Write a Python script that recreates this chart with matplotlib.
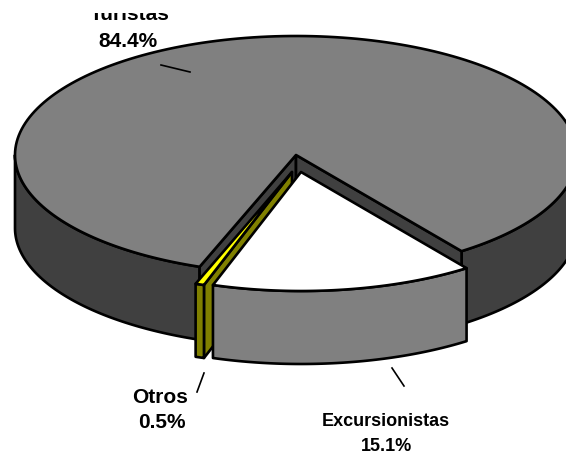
import numpy as np
import matplotlib
matplotlib.use("Agg")
import matplotlib.pyplot as plt
from matplotlib.patches import Polygon
from matplotlib.transforms import Bbox

categories = ["Excursionistas", "Otros", "Turistas"]
values = [15.1, 0.5, 84.4]
label_texts = ["15.1%", "0.5%", "84.4%"]

plt.rcParams['font.family'] = ['Liberation Sans', 'DejaVu Sans']
W, H = 566, 454
fig = plt.figure(figsize=(W / 100, H / 100), dpi=100)
ax = fig.add_axes([0, 0, 1, 1])
ax.set_xlim(0, W)
ax.set_ylim(H, 0)
ax.axis("off")

CX, CY, RX, RY, DEPTH = 296, 155, 281, 119, 73
START = 53.9
GRAY, DARK, OLIVE, YEL = "#808080", "#404040", "#808000", "#FFFF00"
LW = 1.9

sweeps = np.array(values) / sum(values) * 360
edges = START + np.concatenate([[0], np.cumsum(sweeps)])


def arc(t0, t1, dx=0, dy=0, n=200):
    t = np.radians(np.linspace(t0, t1, n))
    return np.column_stack([CX + dx + RX * np.cos(t), CY + dy + RY * np.sin(t)])


def poly(pts, fc, z):
    ax.add_patch(Polygon(pts, closed=True, fc=fc, ec="black", lw=LW,
                         joinstyle="round", zorder=z))


def side(t0, t1, fc, z, dx=0, dy=0):
    top = arc(t0, t1, dx, dy)
    poly(np.vstack([top, top[::-1] + [0, DEPTH]]), fc, z)


def wall(t, fc, z, dx=0, dy=0):
    apex = np.array([CX + dx, CY + dy])
    rim = arc(t, t, dx, dy, 1)[0]
    poly([apex, rim, rim + [0, DEPTH], apex + [0, DEPTH]], fc, z)


def top(t0, t1, fc, z, dx=0, dy=0):
    poly(np.vstack([[CX + dx, CY + dy], arc(t0, t1, dx, dy)]), fc, z)


# Turistas: the main body
t_a, t_b = edges[2], edges[3]
side(t_a, 180, DARK, 1)
side(360, t_b, DARK, 1)
wall(t_a, DARK, 2)
wall(t_b - 360, DARK, 2)
top(t_a, t_b, GRAY, 3)

# Otros: thin pulled-out slice
ox, oy = -4, 17
side(edges[1], edges[2], OLIVE, 5, ox, oy)
wall(edges[1], OLIVE, 4, ox, oy)
top(edges[1], edges[2], YEL, 5, ox, oy)

# Excursionistas: pulled-out slice
ex, ey = 5, 17
side(edges[0], edges[1], GRAY, 6, ex, ey)
top(edges[0], edges[1], "white", 6, ex, ey)

# Leader lines
for xs, ys in [((161, 190), (65, 72)), ((204, 197), (373, 392)), ((392, 404), (368, 386))]:
    ax.plot(xs, ys, color="black", lw=1.2, zorder=7)

# Labels
kw = dict(ha="center", va="baseline", fontweight="bold", color="black", zorder=8)
t = ax.text(130, 20, categories[2], fontsize=15, clip_on=True, **kw)
t.set_clip_box(Bbox([[0, 0], [W, H - 13]]))
ax.text(128, 47, label_texts[2], fontsize=15, **kw)
ax.text(160, 403, categories[1], fontsize=15, **kw)
ax.text(162, 428, label_texts[1], fontsize=15, **kw)
ax.text(386, 426, categories[0], fontsize=13, **kw)
ax.text(386, 451, label_texts[0], fontsize=13, **kw)

fig.savefig("out.png", dpi=100)
